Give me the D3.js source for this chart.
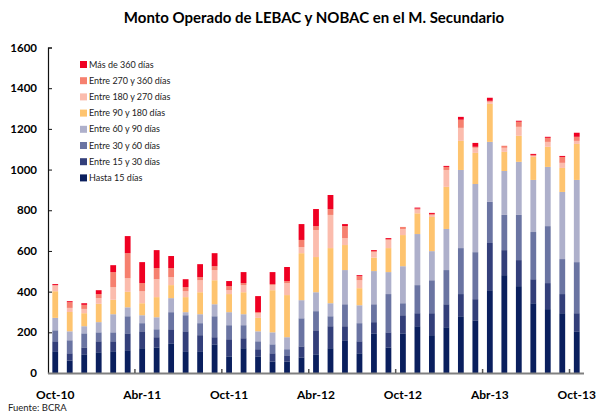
<!DOCTYPE html>
<html>
<head>
<meta charset="utf-8">
<script src="https://cdn.jsdelivr.net/npm/d3@7"></script>
<style>
  html, body { margin: 0; padding: 0; background: #fff; }
  svg { display: block; font-family: Lato, 'Open Sans', sans-serif; }
</style>
</head>
<body>
<svg id="chart" width="597" height="412"></svg>
<script>
const months = [
  'Oct-10', 'Nov-10', 'Dic-10', 'Ene-11', 'Feb-11', 'Mar-11', 'Abr-11', 'May-11', 'Jun-11',
  'Jul-11', 'Ago-11', 'Sep-11', 'Oct-11', 'Nov-11', 'Dic-11', 'Ene-12', 'Feb-12', 'Mar-12',
  'Abr-12', 'May-12', 'Jun-12', 'Jul-12', 'Ago-12', 'Sep-12', 'Oct-12', 'Nov-12', 'Dic-12',
  'Ene-13', 'Feb-13', 'Mar-13', 'Abr-13', 'May-13', 'Jun-13', 'Jul-13', 'Ago-13', 'Sep-13', 'Oct-13'
];

const hasta15 = [107, 62, 92, 102, 107, 112, 122, 126, 146, 107, 107, 141, 82, 122, 82, 57, 57, 77, 92, 122, 161, 97, 195, 126, 195, 230, 186, 225, 279, 259, 407, 481, 427, 343, 314, 294, 205];
const entre15y30 = [49, 35, 34, 54, 49, 83, 83, 50, 69, 98, 79, 35, 84, 49, 35, 40, 30, 54, 118, 108, 69, 59, 55, 74, 89, 64, 108, 113, 109, 104, 232, 123, 128, 118, 128, 94, 89];
const entre30y60 = [54, 64, 69, 44, 44, 84, 40, 39, 84, 79, 59, 103, 69, 64, 39, 44, 30, 138, 94, 49, 108, 89, 88, 188, 59, 138, 162, 168, 226, 231, 202, 173, 222, 232, 280, 172, 251];
const entre60y90 = [61, 44, 35, 50, 89, 44, 39, 59, 69, 15, 44, 59, 64, 54, 49, 59, 59, 89, 93, 64, 168, 88, 163, 108, 182, 251, 143, 202, 384, 335, 295, 216, 261, 256, 291, 330, 404];
const entre90y180 = [131, 95, 64, 90, 71, 76, 59, 99, 64, 74, 108, 118, 89, 108, 66, 207, 207, 231, 173, 271, 123, 84, 66, 118, 153, 102, 168, 207, 143, 153, 187, 94, 128, 113, 99, 118, 177];
const entre180y270 = [28, 20, 21, 28, 62, 67, 59, 88, 39, 29, 59, 50, 19, 35, 23, 25, 59, 30, 133, 163, 34, 39, 27, 40, 30, 18, 10, 83, 64, 25, 10, 20, 44, 5, 24, 25, 15];
const entre270y360 = [2, 28, 20, 20, 74, 123, 40, 55, 45, 20, 15, 19, 20, 10, 5, 5, 10, 35, 19, 29, 59, 20, 5, 4, 10, 5, 5, 15, 40, 5, 5, 10, 25, 5, 20, 29, 20];
const mas360 = [5, 5, 8, 19, 34, 84, 103, 88, 59, 39, 64, 64, 25, 54, 79, 59, 69, 78, 84, 69, 10, 5, 5, 5, 0, 5, 5, 5, 14, 19, 15, 0, 5, 5, 5, 5, 20];

const seriesNames = [
  'Hasta 15 días', 'Entre 15 y 30 días', 'Entre 30 y 60 días', 'Entre 60 y 90 días',
  'Entre 90 y 180 días', 'Entre 180 y 270 días', 'Entre 270 y 360 días', 'Más de 360 días'
];
const seriesValues = [hasta15, entre15y30, entre30y60, entre60y90, entre90y180, entre180y270, entre270y360, mas360];
const seriesColors = ['#0a1f5e', '#333f7a', '#6a74a2', '#aeb0cb', '#fec46f', '#fbbcad', '#f6806f', '#ef0022'];

const yTicks = [0, 200, 400, 600, 800, 1000, 1200, 1400, 1600];
const xLabels = ['Oct-10', 'Abr-11', 'Oct-11', 'Abr-12', 'Oct-12', 'Abr-13', 'Oct-13'];

const title = 'Monto Operado de LEBAC y NOBAC en el M. Secundario';
const source = 'Fuente: BCRA';

// table for d3.stack
const rows = months.map((month, i) => {
  const row = { month };
  seriesNames.forEach((name, s) => { row[name] = seriesValues[s][i]; });
  return row;
});

const margin = { left: 48, right: 13, top: 47.5, bottom: 39 };
const width = 597;
const height = 412;

const svg = d3.select('#chart');

const x = d3.scaleBand()
  .domain(months)
  .range([margin.left, width - margin.right])
  .paddingInner(0.6)
  .paddingOuter(0.3);

const y = d3.scaleLinear()
  .domain([0, 1600])
  .range([height - margin.bottom, margin.top]);

const stacked = d3.stack().keys(seriesNames)(rows);

svg.append('text')
  .attr('x', 314)
  .attr('y', 23)
  .attr('text-anchor', 'middle')
  .attr('font-size', 15)
  .attr('font-weight', 'bold')
  .attr('fill', '#000')
  .text(title);

// bars
svg.append('g')
  .selectAll('g')
  .data(stacked)
  .join('g')
  .attr('fill', (d, i) => seriesColors[i])
  .selectAll('rect')
  .data((d) => d)
  .join('rect')
  .attr('x', (d) => x(d.data.month))
  .attr('width', x.bandwidth())
  .attr('y', (d) => y(d[1]))
  .attr('height', (d) => y(d[0]) - y(d[1]));

// y axis
const yAxis = svg.append('g')
  .attr('transform', `translate(${margin.left},0)`)
  .call(d3.axisRight(y).tickValues(yTicks).tickSize(4).tickFormat(''));
yAxis.select('.domain').attr('stroke', '#111').attr('stroke-width', 1.2);
yAxis.selectAll('.tick line').attr('stroke', '#111');

svg.append('g')
  .selectAll('text')
  .data(yTicks)
  .join('text')
  .attr('x', 37)
  .attr('y', (d) => y(d))
  .attr('dy', '0.35em')
  .attr('text-anchor', 'end')
  .attr('font-size', 11.5)
  .attr('font-weight', 'bold')
  .text((d) => d);

// x axis baseline with ticks every six months
const step = x.step();
const boundary = (m) => x(m) + x.bandwidth() / 2 - step / 2;
svg.append('line')
  .attr('x1', margin.left)
  .attr('x2', width - margin.right)
  .attr('y1', y(0) + 0.5)
  .attr('y2', y(0) + 0.5)
  .attr('stroke', '#808080')
  .attr('stroke-width', 2);

svg.append('g')
  .selectAll('line')
  .data(xLabels.slice(1))
  .join('line')
  .attr('x1', (m) => boundary(m))
  .attr('x2', (m) => boundary(m))
  .attr('y1', y(0) - 4)
  .attr('y2', y(0))
  .attr('stroke', '#555')
  .attr('stroke-width', 1.5);

svg.append('g')
  .selectAll('text')
  .data(xLabels)
  .join('text')
  .attr('x', (m) => x(m) + x.bandwidth() / 2)
  .attr('y', 399)
  .attr('text-anchor', 'middle')
  .attr('font-size', 12)
  .attr('font-weight', 'bold')
  .text((m) => m);

// legend
const legend = svg.append('g').attr('transform', 'translate(80,64.5)');
const legendOrder = d3.range(seriesNames.length).reverse();
legendOrder.forEach((s, i) => {
  const row = legend.append('g').attr('transform', `translate(0,${i * 16.2})`);
  row.append('rect')
    .attr('x', 0)
    .attr('y', -3.5)
    .attr('width', 7)
    .attr('height', 7)
    .attr('fill', seriesColors[s]);
  row.append('text')
    .attr('x', 9)
    .attr('y', 0)
    .attr('dy', '0.35em')
    .attr('font-size', 9)
    .attr('fill', '#222')
    .text(seriesNames[s]);
});

svg.append('text')
  .attr('x', 8)
  .attr('y', 411)
  .attr('font-size', 9.5)
  .attr('fill', '#222')
  .text(source);
</script>
</body>
</html>
